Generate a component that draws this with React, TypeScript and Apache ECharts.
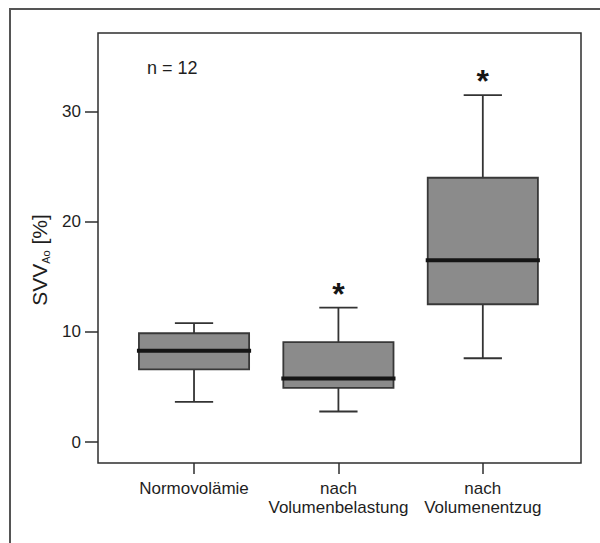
import React, { useEffect, useRef } from "react";
import * as echarts from "echarts";

const categories = ["Normovolämie", "nach\nVolumenbelastung", "nach\nVolumenentzug"];
const whiskerLow = [3.65, 2.77, 7.6];
const quartile1 = [6.6, 4.92, 12.5];
const median = [8.27, 5.76, 16.5];
const quartile3 = [9.87, 9.06, 23.97];
const whiskerHigh = [10.78, 12.19, 31.46];
const significant = [0, 1, 1];
const yTicks = [0, 10, 20, 30];
const xTicks = [1, 2, 3];

const FONT = "'Liberation Sans', Arial, Helvetica, sans-serif";

export default function App() {
  const ref = useRef<HTMLDivElement>(null);

  useEffect(() => {
    if (!ref.current) return;
    const chart = echarts.init(ref.current, undefined, { renderer: "svg" });

    const rows = categories.map((_, i) => [
      xTicks[i],
      whiskerLow[i],
      quartile1[i],
      median[i],
      quartile3[i],
      whiskerHigh[i],
      significant[i],
    ]);

    const BOX_W = 0.763;
    const CAP_W = 0.265;
    const lineStyle = { stroke: "#333", lineWidth: 1.8 };

    const renderItem = (params: any, api: any) => {
      const x = api.value(0);
      const pLo = api.coord([x, api.value(1)]);
      const pQ1 = api.coord([x, api.value(2)]);
      const pMed = api.coord([x, api.value(3)]);
      const pQ3 = api.coord([x, api.value(4)]);
      const pHi = api.coord([x, api.value(5)]);
      const sig = api.value(6);
      const cx = pMed[0];
      const bw = api.size([BOX_W, 0])[0];
      const cw = api.size([CAP_W, 0])[0];
      const children: any[] = [
        { type: "line", shape: { x1: cx, y1: pLo[1], x2: cx, y2: pQ1[1] }, style: lineStyle },
        { type: "line", shape: { x1: cx, y1: pQ3[1], x2: cx, y2: pHi[1] }, style: lineStyle },
        { type: "line", shape: { x1: cx - cw / 2, y1: pLo[1], x2: cx + cw / 2, y2: pLo[1] }, style: lineStyle },
        { type: "line", shape: { x1: cx - cw / 2, y1: pHi[1], x2: cx + cw / 2, y2: pHi[1] }, style: lineStyle },
        {
          type: "rect",
          shape: { x: cx - bw / 2, y: pQ3[1], width: bw, height: pQ1[1] - pQ3[1] },
          style: { fill: "#8b8b8b", stroke: "#383838", lineWidth: 1.8 },
        },
        {
          type: "line",
          shape: { x1: cx - bw / 2 - 2, y1: pMed[1], x2: cx + bw / 2 + 2, y2: pMed[1] },
          style: { stroke: "#151515", lineWidth: 4 },
        },
      ];
      if (sig) {
        children.push({
          type: "text",
          x: cx,
          y: pHi[1] - 14,
          style: {
            text: "*",
            fontSize: 32,
            fontWeight: "bold",
            fontFamily: FONT,
            fill: "#151515",
            textAlign: "center",
            textVerticalAlign: "middle",
          },
        });
      }
      return { type: "group", children };
    };

    chart.setOption({
      animation: false,
      backgroundColor: "#ffffff",
      textStyle: { fontFamily: FONT, color: "#1e1e1e" },
      title: {
        text: "n = 12",
        left: 142,
        top: 54,
        textStyle: { fontSize: 18, fontWeight: "normal", color: "#1e1e1e", fontFamily: FONT },
      },
      graphic: [
        {
          type: "polyline",
          shape: { points: [[10, 543], [10, 9], [600, 9]] },
          style: { stroke: "#555", lineWidth: 2, fill: null },
          silent: true,
        },
      ],
      grid: {
        left: 98,
        top: 33,
        right: 19,
        bottom: 80,
        show: true,
        borderColor: "#2e2e2e",
        borderWidth: 1.5,
        backgroundColor: "transparent",
      },
      xAxis: {
        type: "value",
        min: 0.335,
        max: 3.68,
        splitLine: { show: false },
        axisLine: { show: false, onZero: false },
        axisTick: {
          show: true,
          inside: false,
          length: 11,
          customValues: xTicks,
          lineStyle: { color: "#2e2e2e", width: 1.5 },
        },
        axisLabel: {
          show: true,
          customValues: xTicks,
          margin: 16,
          fontSize: 17,
          lineHeight: 19,
          color: "#1e1e1e",
          formatter: (v: number) => categories[Math.round(v) - 1] ?? "",
        },
      },
      yAxis: {
        type: "value",
        min: -1.9,
        max: 37.1,
        splitLine: { show: false },
        axisLine: { show: false, onZero: false },
        axisTick: {
          show: true,
          inside: false,
          length: 13,
          customValues: yTicks,
          lineStyle: { color: "#2e2e2e", width: 1.5 },
        },
        axisLabel: {
          show: true,
          customValues: yTicks,
          margin: 17,
          fontSize: 17,
          color: "#1e1e1e",
        },
        name: "{m|SVV}{s|Ao}{m| [%]}",
        nameLocation: "middle",
        nameGap: 45,
        nameRotate: 90,
        nameTextStyle: {
          padding: [0, 24, 0, 0],
          rich: {
            m: { fontSize: 21, lineHeight: 24, verticalAlign: "middle", color: "#1e1e1e", fontFamily: FONT },
            s: { fontSize: 11, lineHeight: 11, verticalAlign: "bottom", color: "#1e1e1e", fontFamily: FONT },
          },
        },
      },
      series: [
        {
          type: "custom",
          renderItem,
          clip: false,
          encode: { x: 0, y: [1, 2, 3, 4, 5] },
          data: rows,
        },
      ],
    });

    return () => chart.dispose();
  }, []);

  return (
    <div
      ref={ref}
      style={{ position: "absolute", left: 0, top: 0, width: 600, height: 543 }}
    />
  );
}
